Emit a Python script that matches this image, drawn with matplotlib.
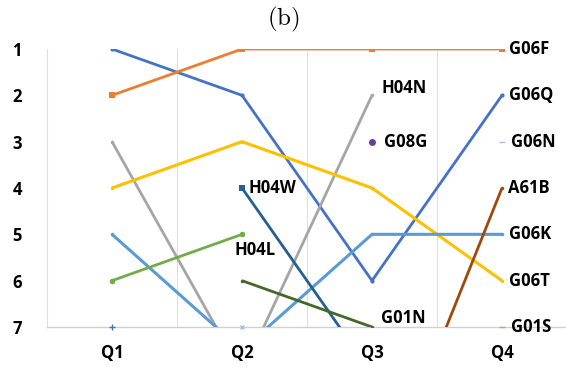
import numpy as np
import matplotlib
matplotlib.use("Agg")
import matplotlib.pyplot as plt

nan = np.nan
quarters = ["Q1", "Q2", "Q3", "Q4"]
rank_ticks = [1, 2, 3, 4, 5, 6, 7]

# ranks per quarter (values > 7 run off the bottom of the chart)
g06q = [1, 2, 6, 2]
g06f = [2, 1, 1, 1]
h04n = [3, 8, 2, nan]
g06t = [4, 3, 4, 6]
g06k = [5, 7.5, 5, 5]
h04l = [6, 5, nan, nan]
h04w = [nan, 4, 8, nan]
g01n = [nan, 6, 7, nan]
a61b = [nan, nan, 11, 4]
g08g = [nan, nan, 3, nan]
g06n = [nan, nan, nan, 3]
g01s = [nan, nan, nan, 7]
extra_q1 = [7, nan, nan, nan]
extra_q2 = [nan, 7, nan, nan]

# name, values, colour, marker, marker size, line width
series = [
    ("G06Q", g06q, "#4472C4", "o", 3.0, 2.0),
    ("G06F", g06f, "#ED7D31", "s", 4.0, 2.0),
    ("H04N", h04n, "#A5A5A5", "o", 2.5, 2.0),
    ("G06T", g06t, "#FFC000", "o", 2.5, 2.2),
    ("G06K", g06k, "#5B9BD5", "o", 2.5, 2.2),
    ("H04L", h04l, "#70AD47", "o", 4.0, 2.0),
    ("H04W", h04w, "#255E91", "s", 4.0, 2.0),
    ("G01N", g01n, "#43682B", "o", 2.5, 2.0),
    ("A61B", a61b, "#9E480E", "o", 2.5, 2.0),
    ("G08G", g08g, "#6A3D9A", "o", 5.0, 2.0),
    ("G06N", g06n, "#9DC3E6", "_", 5, 2.0),
    ("G01S", g01s, "#8CC168", "_", 5, 2.0),
    (None, extra_q1, "#4472C4", "+", 5, 1.0),
    (None, extra_q2, "#9DC3E6", "x", 3, 1.0),
]

# label anchor: (quarter index, rank, dx in data units, dy in ranks, ha)
label_pos = {
    "G06F": (3, 1, 0.05, 0, "left"),
    "G06Q": (3, 2, 0.05, 0, "left"),
    "G06N": (3, 3, 0.07, 0, "left"),
    "A61B": (3, 4, 0.05, 0, "left"),
    "G06K": (3, 5, 0.05, 0, "left"),
    "G06T": (3, 6, 0.05, 0, "left"),
    "G01S": (3, 7, 0.07, 0, "left"),
    "H04N": (2, 2, 0.07, -0.15, "left"),
    "G08G": (2, 3, 0.09, 0, "left"),
    "H04W": (1, 4, 0.05, 0, "left"),
    "H04L": (1, 5, -0.06, 0.34, "left"),
    "G01N": (2, 7, 0.07, -0.2, "left"),
}

plt.rcParams["font.family"] = ["Open Sans", "DejaVu Sans"]
plt.rcParams["mathtext.fontset"] = "cm"

fig = plt.figure(figsize=(5.66, 3.67), dpi=100)
ax = fig.add_axes([47 / 566, 40 / 367, 520 / 566, 278 / 367])

x = np.arange(len(quarters))
for name, vals, color, marker, ms, lw in series:
    mew = 1.0 if marker in ("+", "x", "_") else 0
    single = np.sum(~np.isnan(vals)) == 1
    ax.plot(x, vals, color=color, lw=lw, marker=marker, ms=ms,
            mew=mew, solid_capstyle="butt", clip_on=not single, zorder=3)

for name, (qi, r, dx, dy, ha) in label_pos.items():
    ax.text(qi + dx, r + dy, name, ha=ha, va="center", fontsize=12,
            fontweight="bold", clip_on=False, color="black")

ax.set_xlim(-0.5, 3.5)
ax.set_ylim(7, 1)
ax.set_xticks(x)
ax.set_xticklabels(quarters, fontsize=12, fontweight="bold")
ax.set_yticks(rank_ticks)
ax.set_yticklabels([str(r) for r in rank_ticks], fontsize=12, fontweight="bold")
ax.tick_params(length=0, pad=12)
ax.tick_params(axis="y", pad=18)

for b in [0.5, 1.5, 2.5]:
    ax.axvline(b, color="#E0E0E0", lw=0.8, zorder=0)
for s in ["top", "right"]:
    ax.spines[s].set_visible(False)
ax.spines["left"].set_color("#E0E0E0")
ax.spines["left"].set_linewidth(0.8)
ax.spines["bottom"].set_color("#D0D0D0")
ax.spines["bottom"].set_linewidth(1.0)

fig.text(283 / 566, 1 - 19 / 367, r"$\mathrm{(b)}$", ha="center", va="center",
         fontsize=18)

fig.savefig("out.png", dpi=100)
